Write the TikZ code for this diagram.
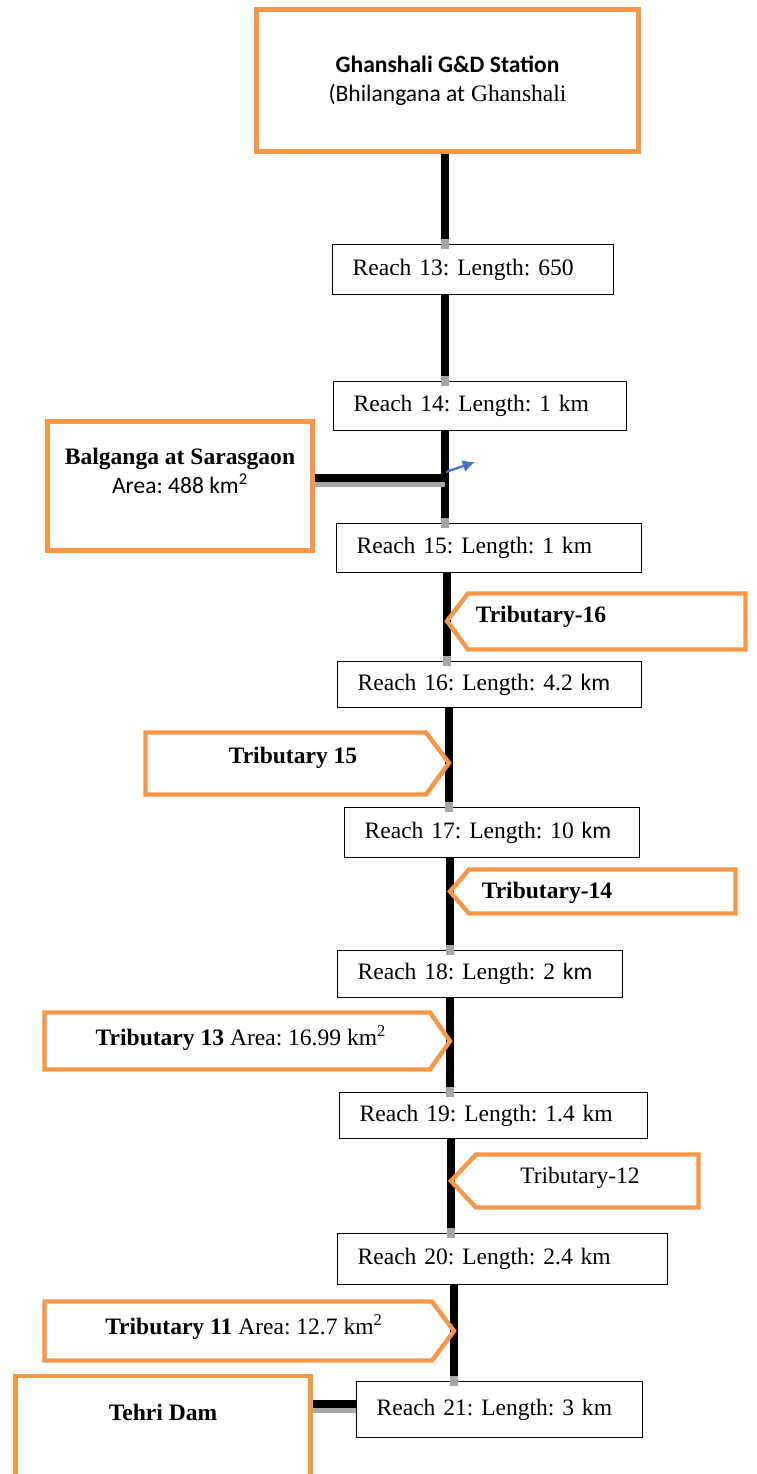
\documentclass[tikz,border=0pt]{standalone}
\usepackage{fontspec}
\setmainfont{Liberation Serif}
\newfontfamily\calib{Carlito}
\frenchspacing
\usetikzlibrary{arrows.meta}
\tikzset{>={Latex[length=7pt,width=7pt]}}
\definecolor{myorange}{RGB}{247, 150, 70}
\definecolor{myblue}{RGB}{68, 114, 196}

\begin{document}
\begin{tikzpicture}[x = 0.02cm, y = -0.02cm,
  txt/.style = {font = \fontsize{13.4}{16.5}\selectfont},
  reach/.style = {txt, draw, line width = 0.75pt, fill = white, align = left, inner xsep = 0.4cm, inner ysep = 0pt, anchor = north west},
  obox/.style = {draw = myorange, line width = 2.5pt, fill = white},
  oline/.style = {draw = myorange, line width = 2.5pt, line join = miter},
  river/.style = {line width = 4.2pt, preaction = {draw = black!35, line width = 4.2pt, shorten > = 0pt, transform canvas = {yshift = -0.1cm}}},
  reachline/.style = {river, shorten > = 0.1cm}]
\clip (0,0) rectangle (757,1474);

\node[obox, txt, minimum width = 7.64cm, minimum height = 2.84cm, align = center] (st) at (447.5, 80.5)
  {{\calib\bfseries Ghanshali G\&D Station}\\{\calib (Bhilangana at} Ghanshali};
\node[obox, minimum width = 5.3cm, minimum height = 2.58cm] (bal) at (180, 486) {};
\node[txt, align = center] (baltxt) at (180, 471) {\textbf{Balganga at Sarasgaon}\\{\calib Area: 488 km\textsuperscript{2}}};
\node[obox, minimum width = 5.9cm, minimum height = 4cm, anchor = north] (dam) at (163, 1373.5) {};
\node[txt] (damtxt) at (163, 1412) {\bfseries Tehri Dam};

\node[reach, text width = 4.82cm, minimum height = 1cm] (r13) at (332, 244) {Reach 13: Length: 650};
\node[reach, text width = 5.06cm, minimum height = 0.98cm] (r14) at (333, 381) {Reach 14: Length: 1 km};
\node[reach, text width = 5.30cm, minimum height = 0.98cm] (r15) at (336, 523) {Reach 15: Length: 1 km};
\node[reach, text width = 5.28cm, minimum height = 0.92cm] (r16) at (337, 661) {Reach 16: Length: 4.2 {\calib km}};
\node[reach, text width = 5.10cm, minimum height = 1cm] (r17) at (344, 807) {Reach 17: Length: 10 {\calib km}};
\node[reach, text width = 4.90cm, minimum height = 0.94cm] (r18) at (337, 950) {Reach 18: Length: 2 {\calib km}};
\node[reach, text width = 5.36cm, minimum height = 0.92cm] (r19) at (339, 1092) {Reach 19: Length: 1.4 km};
\node[reach, text width = 5.80cm, minimum height = 1.02cm] (r20) at (337, 1233) {Reach 20: Length: 2.4 km};
\node[reach, text width = 4.92cm, minimum height = 1.12cm] (r21) at (356, 1381) {Reach 21: Length: 3 km};

\coordinate (jn) at (445, 478);
\coordinate (flowsrc) at (446, 472);
\coordinate (flow) at (475, 462);
\coordinate (outlet) at (356, 1404);
\coordinate (t16) at (447, 621);
\coordinate (t15) at (449, 763);
\coordinate (t14) at (450, 891.5);
\coordinate (t13) at (450, 1041);
\coordinate (t12) at (451, 1181);
\coordinate (t11) at (454, 1331);

\draw[reachline] (st.south -| jn) -- (r13.north -| jn);
\draw[reachline] (r13.south -| jn) -- (r14.north -| jn);
\draw[reachline] (r14.south -| jn) -- (r15.north -| jn);
\draw[reachline] (r15.south -| t16) -- (r16.north -| t16);
\draw[reachline] (r16.south -| t15) -- (r17.north -| t15);
\draw[reachline] (r17.south -| t14) -- (r18.north -| t14);
\draw[reachline] (r18.south -| t13) -- (r19.north -| t13);
\draw[reachline] (r19.south -| t12) -- (r20.north -| t12);
\draw[reachline] (r20.south -| t11) -- (r21.north -| t11);
\draw[river] (bal.east |- jn) -- (jn);
\draw[river] (dam.east |- outlet) -- (outlet);
\draw[->, myblue, line width = 1.3pt] (flowsrc) -- (flow);

\draw[oline] (t16) -- (468, 593.5) -- (745.5, 593.5) -- (745.5, 649.5) -- (468, 649.5) -- cycle;
\draw[oline] (145.5, 732.5) -- (426, 732.5) -- (t15) -- (426, 794.5) -- (145.5, 794.5) -- cycle;
\draw[oline] (t14) -- (469, 869.5) -- (735.5, 869.5) -- (735.5, 913.5) -- (469, 913.5) -- cycle;
\draw[oline] (44.5, 1012.5) -- (430, 1012.5) -- (t13) -- (430, 1069.5) -- (44.5, 1069.5) -- cycle;
\draw[oline] (t12) -- (476, 1154.5) -- (698.5, 1154.5) -- (698.5, 1207.5) -- (476, 1207.5) -- cycle;
\draw[oline] (44.5, 1301.5) -- (432, 1301.5) -- (t11) -- (432, 1360.5) -- (44.5, 1360.5) -- cycle;

\node[txt] (n16) at (541, 617) {\bfseries Tributary-16};
\node[txt] (n15) at (293, 758) {\bfseries Tributary 15};
\node[txt] (n14) at (547, 893) {\bfseries Tributary-14};
\node[txt] (n13) at (241, 1038) {\textbf{Tributary 13} Area: 16.99 km\textsuperscript{2}};
\node[txt] (n12) at (580, 1178) {Tributary-12};
\node[txt] (n11) at (244, 1327) {\textbf{Tributary 11} Area: 12.7 km\textsuperscript{2}};
\end{tikzpicture}
\end{document}
